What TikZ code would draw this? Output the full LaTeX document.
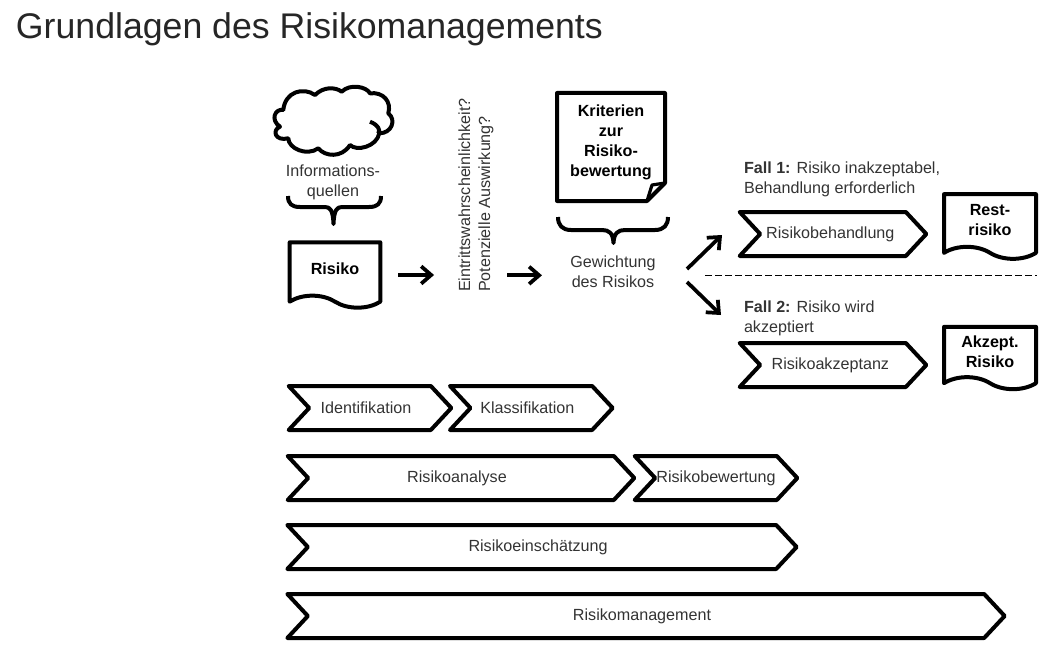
\documentclass[tikz,border=0pt]{standalone}
\usepackage{fontspec}
\setmainfont{Liberation Sans}
\usetikzlibrary{shapes,arrows.meta}
\begin{document}
\begin{tikzpicture}[x=0.75pt,y=-0.75pt,>={Straight Barb[length=7.5pt,width=13pt]},
            every node/.style={font=\fontsize{12.1}{15}\selectfont,text=black!80,outer sep=0pt},
            dick/.style={line width=3pt,line join=round},
            pfeil/.style={->,line width=2.8pt},
            prozess/.style={draw,dick,shape=signal,signal from=west,signal to=east,signal pointer angle=94,inner sep=0pt,minimum height=33pt},
            prozessl/.style={prozess,execute at end node={\hspace{6pt}}},
            fett/.style={align=center,inner sep=0pt,font=\fontsize{12.1}{15}\selectfont\bfseries,text=black},
            dokument/.style={draw,dick,fett,shape=tape,tape bend top=none,tape bend bottom=out and in,tape bend height=9pt}]
            \useasboundingbox (0,0) rectangle (1060,667);
            \node [anchor=west,inner sep=0pt,font=\fontsize{26.75}{30}\selectfont,text=black!85] (titel) at (16,29) {Grundlagen des Risikomanagements};

            \draw [dick] (283.3,110) .. controls (285,91.7) and (303.3,86.7) .. (315,95)
                .. controls (323.3,86.7) and (335,86.7) .. (341.7,91.7)
                .. controls (350,83.3) and (366.7,86.7) .. (370,93.3)
                .. controls (383.3,91.7) and (391.7,101.7) .. (388.3,113.3)
                .. controls (396.7,120) and (391.7,133.3) .. (379.3,133.3)
                .. controls (376.7,146.7) and (356.7,151.7) .. (350,145)
                .. controls (341.7,158.3) and (325,156.7) .. (318.3,148.3)
                .. controls (306.7,156.7) and (288.3,148.3) .. (288.3,138.3)
                .. controls (275,141.7) and (271.7,130) .. (280,126.7)
                .. controls (270,120) and (275,108.3) .. cycle;
            \draw [dick] (370,121.7) .. controls (378.3,125) and (380.7,130) .. (378.3,133.3);
            \node [align=center] (quellen) at (333,182) {Informations-\\quellen};
            \coordinate (k1) at (288,196);
            \draw [dick] (k1) .. controls (288,204) and (292,207) .. (300,207) -- (325,207)
                .. controls (330,207) and (333,210) .. (333.5,224)
                .. controls (334,210) and (337,207) .. (342,207) -- (369,207)
                .. controls (377,207) and (381,204) .. (381,196);
            \node [dokument,minimum width=68pt,minimum height=49pt] (risiko) at (335,269) {Risiko};

            \node [rotate=90,align=left] (frage) at (476,195) {Eintrittswahrscheinlichkeit?\\Potenzielle Auswirkung?};
            \draw [pfeil,shorten <=13.5pt,shorten >=15pt] ([yshift=-4.5pt]risiko.east) -- ([yshift=-4.5pt]risiko.east -| frage.north);

            \draw [dick] (557,93) -- (665,93) -- (665,183) -- (647,201) -- (557,201) -- cycle;
            \draw [dick,line width=2.4pt] (665,183) -- (652,185) -- (647,201);
            \node [fett] (kriterien) at (611,142) {Kriterien\\zur\\Risiko-\\bewertung};
            \coordinate (k2) at (558,217);
            \draw [dick] (k2) .. controls (558,225) and (562,230) .. (571,230) -- (602,230)
                .. controls (609,230) and (613,233) .. (613.5,243)
                .. controls (614,233) and (618,230) .. (625,230) -- (655,230)
                .. controls (664,230) and (668,225) .. (668,217);
            \node [align=center] (gewichtung) at (613,272) {Gewichtung\\des Risikos};
            \draw [pfeil,shorten <=7pt,shorten >=18pt] ([yshift=-2.5pt]gewichtung.west -| frage.south) -- ([yshift=-2.5pt]gewichtung.west);

            \coordinate (a1) at (687,269);
            \coordinate (b1) at (722,235);
            \coordinate (a2) at (687,282);
            \coordinate (b2) at (721,315);
            \draw [pfeil] (a1) -- (b1);
            \draw [pfeil] (a2) -- (b2);
            \coordinate (t1) at (705,275);
            \coordinate (t2) at (1037,275);
            \draw [dash pattern=on 5pt off 2.5pt,line width=0.6pt] (t1) -- (t2);

            \node [anchor=west,align=left,inner sep=0pt] (fall1) at (744,179) {\textbf{Fall 1:} Risiko inakzeptabel,\\Behandlung erforderlich};
            \node [prozess,minimum width=140pt,execute at end node={\hspace{4pt}}] (behandlung) at (833,234) {Risikobehandlung};
            \node [dokument,minimum width=69pt,minimum height=48.5pt] (rest) at (990,220.5) {Rest-\\risiko};
            \node [anchor=west,align=left,inner sep=0pt] (fall2) at (744,318) {\textbf{Fall 2:} Risiko wird\\akzeptiert};
            \node [prozess,minimum width=140pt,execute at end node={\hspace{4pt}}] (akzeptanz) at (833,365) {Risikoakzeptanz};
            \node [dokument,minimum width=69pt,minimum height=46.75pt] (akzeptiert) at (990,352) {Akzept.\\Risiko};

            \node [prozessl,minimum width=122pt] (identifikation) at (370,408) {Identifikation};
            \node [prozessl,minimum width=122pt,right of=identifikation,node distance=121pt] (klassifikation) {Klassifikation};
            \node [prozessl,minimum width=260pt] (analyse) at (461,478) {Risikoanalyse};
            \node [prozess,minimum width=122pt,inner xsep=-3pt] (bewertung) at (716,478) {Risikobewertung};
            \node [prozessl,minimum width=382pt] (einschaetzung) at (542,547) {Risikoeinschätzung};
            \node [prozessl,minimum width=538pt] (management) at (646,616) {Risikomanagement};
        \end{tikzpicture}
\end{document}
